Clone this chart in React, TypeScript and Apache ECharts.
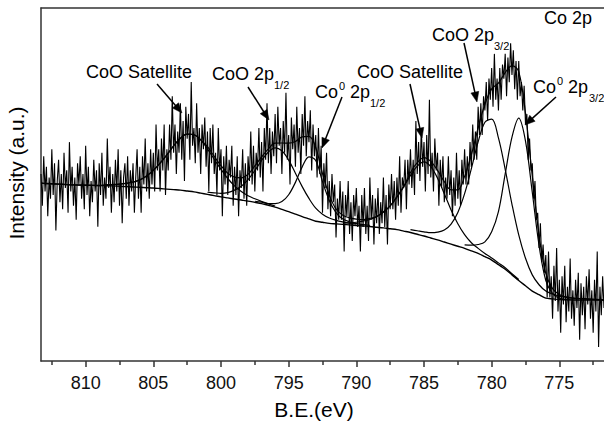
import React, { useEffect, useRef } from "react";
import * as echarts from "echarts";

// ---------- axis ----------
const xMin = 771.7;
const xMax = 813.3;
const majorTicks = [810, 805, 800, 795, 790, 785, 780, 775];
const minorTicks = [812.5, 807.5, 802.5, 797.5, 792.5, 787.5, 782.5, 777.5, 772.5];

// ---------- raw spectrum (B.E. from 813.3 eV down, 0.1 eV step) ----------
const spectrumStart = 813.3;
const spectrumStep = 0.1;
const spectrumValues = [
  53, 44, 58,
  48, 55, 41, 52, 46, 60, 47, 56, 37, 51,
  57, 45, 53, 43, 59, 49, 54, 42, 62, 48,
  55, 44, 52, 40, 56, 50, 58, 46, 53, 43,
  61, 47, 55, 41, 51, 45, 57, 48, 54, 38,
  56, 47, 59, 44, 52, 46, 63, 49, 55, 42,
  53, 45, 57, 48, 60, 44, 54, 39, 52, 56,
  46, 58, 44, 54, 48, 56, 42, 52, 60, 46,
  55, 42, 58, 50, 63, 48, 56, 46, 60, 50,
  59, 48, 67, 54, 60, 48, 63, 54, 67, 47,
  60, 54, 67, 57, 75, 59, 67, 53, 65, 59,
  73, 57, 68, 51, 72, 63, 70, 57, 79, 61,
  66, 56, 73, 59, 66, 53, 67, 60, 69, 55,
  65, 48, 66, 56, 67, 53, 59, 47, 66, 54,
  60, 41, 58, 50, 61, 47, 57, 52, 61, 44,
  55, 47, 58, 41, 54, 49, 60, 46, 56, 44,
  58, 51, 65, 50, 61, 48, 59, 54, 66, 52,
  62, 48, 66, 57, 73, 56, 66, 53, 65, 58,
  70, 56, 72, 61, 66, 53, 68, 59, 76, 57,
  64, 50, 69, 60, 67, 55, 72, 59, 66, 53,
  70, 61, 75, 58, 68, 62, 71, 54, 67, 58,
  64, 52, 66, 53, 61, 42, 56, 49, 59, 43,
  51, 41, 53, 45, 50, 35, 46, 40, 51, 40,
  48, 31, 47, 41, 51, 36, 45, 34, 47, 41,
  49, 38, 44, 31, 47, 38, 49, 36, 44, 34,
  52, 40, 47, 33, 46, 39, 49, 36, 45, 39,
  52, 38, 47, 33, 50, 43, 53, 43, 51, 40,
  52, 44, 58, 42, 52, 49, 57, 43, 57, 50,
  60, 49, 57, 47, 68, 53, 62, 51, 66, 55,
  62, 48, 64, 53, 74, 52, 59, 48, 63, 54,
  59, 44, 57, 49, 58, 45, 52, 46, 58, 47,
  54, 41, 52, 44, 59, 46, 54, 44, 57, 50,
  60, 50, 58, 50, 62, 55, 67, 57, 65, 57,
  72, 64, 73, 64, 75, 71, 79, 68, 80, 74,
  83, 72, 87, 74, 80, 71, 83, 74, 84, 80,
  87, 75, 86, 79, 90, 81, 88, 77, 85, 74,
  85, 75, 79, 71, 78, 67, 70, 57, 63, 54,
  56, 46, 51, 40, 42, 32, 39, 28, 33, 25,
  30, 18, 31, 18, 24, 12, 27, 17, 32, 14,
  23, 8, 24, 16, 27, 11, 21, 14, 29, 12,
  20, 10, 23, 15, 25, 6, 22, 13, 21, 9,
  24, 16, 26, 12, 20, 8, 23, 14, 31, 4,
  21, 13, 24, 15,
];

// ---------- Shirley background ----------
const bgEnergy = [
  813.3, 813, 812.5, 812, 811.5, 811, 810.5, 810, 809.5, 809, 808.5, 808, 807.5, 807, 806.5, 806,
  805.5, 805, 804.5, 804, 803.5, 803, 802.5, 802, 801.5, 801, 800.5, 800, 799.5, 799, 798.5, 798,
  797.5, 797, 796.5, 796, 795.5, 795, 794.5, 794, 793.5, 793, 792.5, 792, 791.5, 791, 790.5, 790,
  789.5, 789, 788.5, 788, 787.5, 787, 786.5, 786, 785.5, 785, 784.5, 784, 783.5, 783, 782.5, 782,
  781.5, 781, 780.5, 780, 779.5, 779, 778.5, 778, 777.5, 777, 776.5, 776, 775.5, 775, 774.5, 774,
  773.5, 773, 772.5, 772, 771.7,
];
const bgValue = [
  50.4, 50.3, 50.2, 50.1, 50.0, 49.9, 49.85, 49.8, 49.75, 49.7, 49.65, 49.6, 49.5, 49.4, 49.3, 49.2,
  49.1, 49.0, 48.85, 48.7, 48.55, 48.4, 48.15, 47.9, 47.55, 47.2, 46.85, 46.5, 46.2, 45.9, 45.6, 45.3,
  44.95, 44.6, 44.1, 43.6, 42.95, 42.3, 41.6, 40.9, 40.25, 39.6, 39.3, 39.0, 38.85, 38.7, 38.55, 38.4,
  38.25, 38.1, 37.9, 37.7, 37.45, 37.2, 36.8, 36.4, 35.9, 35.4, 34.85, 34.3, 33.7, 33.1, 32.5, 31.9,
  31.2, 30.5, 29.55, 28.6, 27.3, 26.0, 24.4, 22.8, 21.3, 19.8, 18.8, 17.8, 17.6, 17.4, 17.35, 17.3,
  17.3, 17.3, 17.3, 17.3, 17.3,
];

// ---------- fitted components: heights above background ----------
const satHighEnergy = [808.5, 808, 807.5, 807, 806.5, 806, 805.5, 805, 804.5, 804, 803.5, 803, 802.5, 802, 801.5, 801, 800.5, 800, 799.5, 799, 798.5, 798, 797.5, 797, 796.5, 796];
const satHighHeight = [0.3, 0.4, 0.6, 0.9, 1.4, 2.1, 3.3, 5.0, 7.2, 9.7, 12.4, 14.7, 16.1, 16.2, 15.1, 12.9, 10.3, 7.8, 5.5, 3.7, 2.4, 1.5, 1.0, 0.6, 0.4, 0.3];

const cooHalfEnergy = [801, 800.5, 800, 799.5, 799, 798.5, 798, 797.5, 797, 796.5, 796, 795.5, 795, 794.5, 794, 793.5, 793, 792.5, 792, 791.5, 791, 790.5, 790];
const cooHalfHeight = [0.6, 0.8, 1.0, 1.5, 2.5, 3.9, 6.1, 9.0, 12.2, 15.1, 16.8, 16.6, 14.6, 11.6, 8.5, 5.8, 3.7, 2.3, 1.5, 1.0, 0.7, 0.5, 0.4];

const coHalfEnergy = [797.5, 797, 796.5, 796, 795.5, 795, 794.5, 794, 793.5, 793, 792.5, 792, 791.5, 791, 790.5, 790, 789.5, 789];
const coHalfHeight = [0.3, 0.4, 0.5, 1.0, 2.2, 4.8, 9.0, 14.1, 17.6, 17.2, 11.5, 6.5, 3.2, 1.5, 0.9, 0.5, 0.4, 0.3];

const satLowEnergy = [791, 790.5, 790, 789.5, 789, 788.5, 788, 787.5, 787, 786.5, 786, 785.5, 785, 784.5, 784, 783.5, 783, 782.5, 782, 781.5, 781, 780.5, 780, 779.5, 779, 778.5, 778];
const satLowHeight = [0.4, 0.6, 0.9, 1.4, 2.0, 3.0, 4.5, 6.5, 9.3, 12.6, 16.2, 19.3, 21.0, 20.2, 17.5, 13.7, 9.7, 6.4, 3.9, 2.3, 1.4, 0.9, 0.6, 0.5, 0.4, 0.3, 0.3];

const cooThreeEnergy = [786, 785.5, 785, 784.5, 784, 783.5, 783, 782.5, 782, 781.5, 781, 780.5, 780, 779.5, 779, 778.5, 778, 777.5, 777, 776.5, 776, 775.5, 775, 774.5, 774, 773.5, 773, 772.5, 772];
const cooThreeHeight = [0.8, 1.0, 1.2, 1.5, 2.2, 3.4, 5.7, 9.6, 15.5, 23.3, 31.6, 38.1, 39.9, 35.9, 28.3, 20.0, 12.9, 7.8, 4.6, 2.8, 2.0, 1.4, 1.0, 0.7, 0.5, 0.4, 0.3, 0.2, 0.1];

const coThreeEnergy = [782, 781.5, 781, 780.5, 780, 779.5, 779, 778.5, 778, 777.5, 777, 776.5, 776, 775.5, 775, 774.5];
const coThreeHeight = [1.0, 1.6, 2.5, 4.2, 8.0, 15.0, 27.0, 39.0, 46.0, 41.0, 28.0, 14.0, 5.0, 1.5, 0.4, 0.1];

const components = [
  { energy: satHighEnergy, height: satHighHeight },
  { energy: cooHalfEnergy, height: cooHalfHeight },
  { energy: coHalfEnergy, height: coHalfHeight },
  { energy: satLowEnergy, height: satLowHeight },
  { energy: cooThreeEnergy, height: cooThreeHeight },
  { energy: coThreeEnergy, height: coThreeHeight },
];

// ---------- annotations (pixel layout) ----------
const FONT = "'Liberation Sans', Arial, Helvetica, sans-serif";
const labelTexts = [
  { text: "CoO Satellite", x: 86, y: 72, size: 18 },
  { text: "CoO 2p", x: 212, y: 74, size: 18 },
  { text: "1/2", x: 274, y: 85, size: 11 },
  { text: "Co", x: 315, y: 92, size: 18 },
  { text: "0", x: 339, y: 86, size: 11 },
  { text: "2p", x: 350, y: 92, size: 18 },
  { text: "1/2", x: 370, y: 103, size: 11 },
  { text: "CoO Satellite", x: 357, y: 72, size: 18 },
  { text: "CoO 2p", x: 432, y: 35, size: 18 },
  { text: "3/2", x: 494, y: 46, size: 11 },
  { text: "Co", x: 533, y: 87, size: 18 },
  { text: "0", x: 557, y: 81, size: 11 },
  { text: "2p", x: 568, y: 87, size: 18 },
  { text: "3/2", x: 589, y: 98, size: 11 },
  { text: "Co 2p", x: 544, y: 18, size: 18 },
];
const arrows = [
  [157, 84, 182, 113],
  [248, 87, 269, 120],
  [342, 97, 322, 148],
  [410, 84, 422, 138],
  [464, 43, 477, 102],
  [556, 97, 525, 125],
];

function buildArrow(a: number[]) {
  const [x1, y1, x2, y2] = a;
  const dx = x2 - x1;
  const dy = y2 - y1;
  const len = Math.sqrt(dx * dx + dy * dy);
  const ux = dx / len;
  const uy = dy / len;
  const headLen = 10;
  const headHalf = 4;
  const bx = x2 - ux * headLen;
  const by = y2 - uy * headLen;
  return [
    {
      type: "line",
      silent: true,
      shape: { x1, y1, x2: bx + ux * 2, y2: by + uy * 2 },
      style: { stroke: "#000", lineWidth: 1.5 },
    },
    {
      type: "polygon",
      silent: true,
      shape: {
        points: [
          [x2, y2],
          [bx - uy * headHalf, by + ux * headHalf],
          [bx + uy * headHalf, by - ux * headHalf],
        ],
      },
      style: { fill: "#000", stroke: "#000", lineWidth: 0.5 },
    },
  ];
}

export default function App() {
  const ref = useRef<HTMLDivElement>(null);

  useEffect(() => {
    if (!ref.current) return;
    const chart = echarts.init(ref.current, null, { renderer: "svg" });

    const bgMap = new Map<string, number>();
    bgEnergy.forEach((e, i) => bgMap.set(e.toFixed(1), bgValue[i]));

    const spectrum = spectrumValues.map((v, i) => [
      Math.round((spectrumStart - i * spectrumStep) * 10) / 10,
      v,
    ]);
    const background = bgEnergy.map((e, i) => [e, bgValue[i]]);

    const compMaps = components.map((c) => {
      const m = new Map<string, number>();
      c.energy.forEach((e, i) => m.set(e.toFixed(1), c.height[i]));
      return m;
    });

    const componentCurves = components.map((c) =>
      c.energy.map((e, i) => [e, (bgMap.get(e.toFixed(1)) ?? 0) + c.height[i]])
    );

    const envelope = bgEnergy.map((e, i) => {
      let s = bgValue[i];
      compMaps.forEach((m) => {
        s += m.get(e.toFixed(1)) ?? 0;
      });
      return [e, s];
    });

    const lineBase = {
      type: "line",
      xAxisIndex: 0,
      yAxisIndex: 0,
      showSymbol: false,
      symbol: "none",
      silent: true,
      animation: false,
    };

    const axisColor = "#333";

    const graphics: any[] = [];
    labelTexts.forEach((t) => {
      graphics.push({
        type: "text",
        silent: true,
        x: t.x,
        y: t.y,
        style: {
          text: t.text,
          fontSize: t.size,
          fontFamily: FONT,
          fill: "#000",
          align: "left",
          verticalAlign: "middle",
          textAlign: "left",
          textVerticalAlign: "middle",
        },
      });
    });
    arrows.forEach((a) => graphics.push(...buildArrow(a)));
    graphics.push({
      type: "text",
      silent: true,
      x: 16,
      y: 173,
      rotation: Math.PI / 2,
      style: {
        text: "Intensity (a.u.)",
        fontSize: 21,
        fontFamily: FONT,
        fill: "#000",
        align: "center",
        verticalAlign: "middle",
        textAlign: "center",
        textVerticalAlign: "middle",
      },
    });
    graphics.push({
      type: "text",
      silent: true,
      x: 314,
      y: 409,
      style: {
        text: "B.E.(eV)",
        fontSize: 21,
        fontFamily: FONT,
        fill: "#000",
        align: "center",
        verticalAlign: "middle",
        textAlign: "center",
        textVerticalAlign: "middle",
      },
    });

    const option: any = {
      animation: false,
      backgroundColor: "#fff",
      grid: {
        left: 41,
        right: 0,
        top: 8,
        bottom: 63,
        containLabel: false,
        outerBoundsMode: "none",
      },
      xAxis: [
        {
          type: "value",
          inverse: true,
          min: xMin,
          max: xMax,
          position: "bottom",
          axisLine: { show: true, onZero: false, lineStyle: { color: axisColor, width: 1.5 } },
          axisTick: {
            show: true,
            customValues: majorTicks,
            length: 6,
            lineStyle: { color: axisColor, width: 1.5 },
          },
          axisLabel: {
            show: true,
            customValues: majorTicks,
            fontSize: 18,
            fontFamily: FONT,
            color: "#111",
            margin: 13,
          },
          splitLine: { show: false },
        },
        {
          type: "value",
          inverse: true,
          min: xMin,
          max: xMax,
          position: "bottom",
          axisLine: { show: false, onZero: false },
          axisTick: {
            show: true,
            customValues: minorTicks,
            length: 4,
            lineStyle: { color: axisColor, width: 1.5 },
          },
          axisLabel: { show: false },
          splitLine: { show: false },
        },
        {
          type: "value",
          inverse: true,
          min: xMin,
          max: xMax,
          position: "top",
          axisLine: { show: true, onZero: false, lineStyle: { color: axisColor, width: 1.5 } },
          axisTick: { show: false },
          axisLabel: { show: false },
          splitLine: { show: false },
        },
      ],
      yAxis: {
        type: "value",
        min: 0,
        max: 100,
        axisLine: { show: true, onZero: false, lineStyle: { color: axisColor, width: 1.5 } },
        axisTick: { show: false },
        axisLabel: { show: false },
        splitLine: { show: false },
      },
      series: [
        {
          ...lineBase,
          name: "spectrum",
          data: spectrum,
          lineStyle: { color: "#000", width: 1.1 },
          z: 2,
        },
        {
          ...lineBase,
          name: "background",
          data: background,
          smooth: 0.3,
          lineStyle: { color: "#000", width: 1.4 },
          z: 3,
        },
        ...componentCurves.map((d, i) => ({
          ...lineBase,
          name: "component" + i,
          data: d,
          smooth: 0.35,
          lineStyle: { color: "#000", width: 1.2 },
          z: 3,
        })),
        {
          ...lineBase,
          name: "envelope",
          data: envelope,
          smooth: 0.35,
          lineStyle: { color: "#000", width: 1.2 },
          z: 3,
        },
      ],
      graphic: graphics,
    };

    chart.setOption(option);
    return () => chart.dispose();
  }, []);

  return (
    <div
      ref={ref}
      style={{ position: "absolute", left: 0, top: 0, width: 604, height: 424 }}
    />
  );
}
